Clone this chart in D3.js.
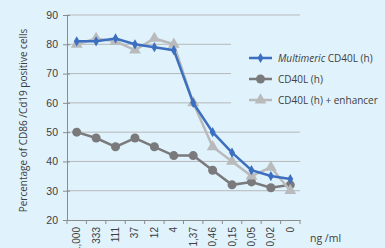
<!DOCTYPE html>
<html>
<head>
<meta charset="utf-8">
<script src="https://cdn.jsdelivr.net/npm/d3@7"></script>
<style>
  body { margin: 0; background: #e0f2fb; }
  svg { display: block; font-family: "Open Sans", sans-serif; }
</style>
</head>
<body>
<div id="canvas"></div>
<script>
// -------------------------------------------- Data
const doses = ["1,000", "333", "111", "37", "12", "4", "1,37", "0,46", "0,15", "0,05", "0,02", "0"];
const multimeric = [81, 81, 82, 80, 79, 78, 60, 50, 43, 37, 35, 34];
const cd40l = [50, 48, 45, 48, 45, 42, 42, 37, 32, 33, 31, 32];
const enhancer = [80, 82, 81, 78, 82, 80, 60, 45, 40, 35, 38, 30];
const yTicks = [20, 30, 40, 50, 60, 70, 80, 90];

const series = [
  { name: "CD40L (h)", values: cd40l, color: "#7a7a7c", shape: "circle" },
  { name: "CD40L (h) + enhancer", values: enhancer, color: "#b9babb", shape: "triangle" },
  { name: "Multimeric CD40L (h)", values: multimeric, color: "#3d6fc0", shape: "diamond" }
];

// -------------------------------------------- Dimensiones
const width = 385;
const height = 248;
const margin = { top: 15, left: 67, bottom: 28, right: 85 };
const iwidth = width - margin.left - margin.right;
const iheight = height - margin.top - margin.bottom;

const svg = d3.select("#canvas").append("svg")
  .attr("width", width)
  .attr("height", height);

svg.append("rect").attr("width", width).attr("height", height).attr("fill", "#e0f2fb");

const g = svg.append("g").attr("transform", `translate(${margin.left},${margin.top})`);

// -- Escalas
const x = d3.scaleBand().domain(doses).range([0, iwidth]);
const y = d3.scaleLinear().domain([20, 90]).range([iheight, 0]);

// -- Grid
g.append("g")
  .selectAll("line")
  .data(yTicks.filter((d) => d > 20))
  .join("line")
  .attr("x1", 0)
  .attr("x2", iwidth)
  .attr("y1", (d) => y(d))
  .attr("y2", (d) => y(d))
  .attr("stroke", "#b5b8ba")
  .attr("stroke-width", 1);

// -- Eje Y
const yAxis = g.append("g")
  .call(d3.axisLeft(y).tickValues(yTicks).tickSize(4).tickSizeOuter(0).tickPadding(5));
yAxis.select(".domain").attr("stroke", "#8c8c8c");
yAxis.selectAll(".tick line").attr("stroke", "#8c8c8c").attr("x2", 3).attr("x1", -4);
yAxis.selectAll("text").attr("fill", "#404040").style("font-size", "10.5px");

// -- Eje X
const xAxis = g.append("g")
  .attr("transform", `translate(0,${iheight})`)
  .call(d3.axisBottom(x).tickSize(0).tickSizeOuter(0));
xAxis.select(".domain").attr("stroke", "#8c8c8c");
xAxis.selectAll(".tick line").remove();
xAxis.selectAll("text")
  .attr("fill", "#404040")
  .style("font-size", "10px")
  .attr("transform", "rotate(-90)")
  .attr("text-anchor", "end")
  .attr("x", -7)
  .attr("y", 0)
  .attr("dy", "0.35em");

// marcas entre categorías
xAxis.append("g")
  .selectAll("line")
  .data(d3.range(doses.length + 1))
  .join("line")
  .attr("x1", (i) => i * x.bandwidth())
  .attr("x2", (i) => i * x.bandwidth())
  .attr("y1", 0)
  .attr("y2", 4)
  .attr("stroke", "#8c8c8c");

// -- Titulo eje Y
svg.append("text")
  .attr("transform", `translate(27,${margin.top + iheight / 2 + 3}) rotate(-90)`)
  .attr("text-anchor", "middle")
  .attr("fill", "#404040")
  .style("font-size", "10px")
  .text("Percentage of CD86 /Cd19 positive cells");

svg.append("text")
  .attr("x", 310)
  .attr("y", 242)
  .attr("fill", "#404040")
  .style("font-size", "10.5px")
  .text("ng /ml");

// -- Lineas
const line = d3.line()
  .x((d, i) => x(doses[i]) + x.bandwidth() / 2)
  .y((d) => y(d));

function drawMarker(sel, shape, color) {
  if (shape === "circle") {
    sel.append("circle").attr("r", 4.5).attr("fill", color);
  } else if (shape === "triangle") {
    sel.append("path").attr("d", d3.symbol(d3.symbolTriangle, 60)()).attr("fill", color);
  } else {
    sel.append("path").attr("d", d3.symbol(d3.symbolDiamond, 30)()).attr("fill", color);
  }
}

series.forEach((s) => {
  g.append("path")
    .datum(s.values)
    .attr("fill", "none")
    .attr("stroke", s.color)
    .attr("stroke-width", 2.5)
    .attr("d", line);

  g.append("g")
    .selectAll("g")
    .data(s.values)
    .join("g")
    .attr("transform", (d, i) => `translate(${x(doses[i]) + x.bandwidth() / 2},${y(d)})`)
    .each(function () { drawMarker(d3.select(this), s.shape, s.color); });
});

// -- Leyenda
const legend = svg.append("g");
legend.append("rect")
  .attr("x", 231).attr("y", 38).attr("width", 154).attr("height", 72)
  .attr("fill", "#e0f2fb");

const legendItems = [series[2], series[0], series[1]];
legendItems.forEach((s, i) => {
  const ly = 58 + i * 21;
  const item = legend.append("g");
  item.append("line")
    .attr("x1", 249).attr("x2", 272).attr("y1", ly).attr("y2", ly)
    .attr("stroke", s.color).attr("stroke-width", 2.5);
  const m = item.append("g").attr("transform", `translate(260.5,${ly})`);
  drawMarker(m, s.shape, s.color);
  const t = item.append("text")
    .attr("x", 278).attr("y", ly + 4)
    .attr("fill", "#404040")
    .style("font-size", "10px");
  if (i === 0) {
    t.append("tspan").style("font-style", "italic").text("Multimeric");
    t.append("tspan").text(" CD40L (h)");
  } else {
    t.text(s.name);
  }
});
</script>
</body>
</html>
